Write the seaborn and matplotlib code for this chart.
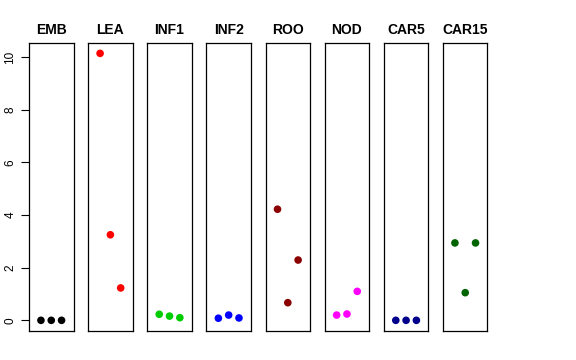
import matplotlib
matplotlib.use("Agg")
import matplotlib.pyplot as plt
import seaborn as sns
import pandas as pd

sns.set_style("white")
plt.rcParams['font.family'] = ['Liberation Sans', 'DejaVu Sans']
plt.rcParams['text.color'] = 'black'

tissues = ["EMB", "LEA", "INF1", "INF2", "ROO", "NOD", "CAR5", "CAR15"]
colors = ["#000000", "#FF0000", "#00CD00", "#0000FF", "#8B0000", "#FF00FF", "#00008B", "#006400"]
replicate = [1, 2, 3]
emb = [0.0, 0.0, 0.0]
lea = [10.14, 3.25, 1.23]
inf1 = [0.23, 0.16, 0.10]
inf2 = [0.08, 0.20, 0.09]
roo = [4.22, 0.67, 2.29]
nod = [0.20, 0.24, 1.10]
car5 = [0.0, 0.0, 0.0]
car15 = [2.94, 1.05, 2.94]
values = [emb, lea, inf1, inf2, roo, nod, car5, car15]
yticks = [0, 2, 4, 6, 8, 10]

W, H = 576, 360
fig = plt.figure(figsize=(W / 100, H / 100), dpi=100)
top, bottom = 42.7, 331.0
ymax = max(max(v) for v in values)
ypad = ymax * 0.04
for i, (name, col, vals) in enumerate(zip(tissues, colors, values)):
    left = 29 + 59.14 * i
    ax = fig.add_axes([left / W, 1 - bottom / H, 44.5 / W, (bottom - top) / H])
    df = pd.DataFrame({"rep": replicate, "value": vals})
    sns.scatterplot(data=df, x="rep", y="value", ax=ax, color=col, s=30,
                    edgecolor="none", linewidth=0)
    ax.set_xlim(-0.16, 4.16)
    ax.set_ylim(-ypad, ymax + ypad)
    ax.set_xticks([])
    ax.set_xlabel("")
    ax.set_ylabel("")
    for sp in ax.spines.values():
        sp.set_visible(True)
        sp.set_color("black")
        sp.set_linewidth(0.9)
    ax.set_title(name, fontsize=10, fontweight="bold", pad=6, color="black")
    if i == 0:
        ax.set_yticks(yticks)
        ax.set_yticklabels([str(t) for t in yticks], rotation=90, va="center", fontsize=8.5)
        ax.tick_params(axis="y", length=6, width=0.8, left=True, pad=3, colors="black")
    else:
        ax.set_yticks([])
fig.savefig("out.png", dpi=100)
